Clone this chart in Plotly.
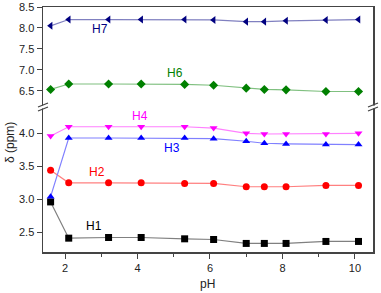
import plotly.graph_objects as go

pH = [1.6, 2.1, 3.2, 4.1, 5.3, 6.1, 7.0, 7.5, 8.1, 9.2, 10.1]
H1 = [2.96, 2.41, 2.42, 2.42, 2.40, 2.39, 2.33, 2.33, 2.33, 2.36, 2.36]
H2 = [3.44, 3.25, 3.25, 3.25, 3.24, 3.24, 3.19, 3.19, 3.19, 3.21, 3.21]
H3 = [3.04, 3.93, 3.93, 3.93, 3.93, 3.92, 3.88, 3.85, 3.84, 3.83, 3.83]
H4 = [3.96, 4.10, 4.10, 4.10, 4.10, 4.08, 4.00, 3.99, 3.99, 3.99, 4.00]
H6 = [6.53, 6.66, 6.66, 6.66, 6.65, 6.63, 6.56, 6.53, 6.52, 6.48, 6.48]
H7 = [8.05, 8.20, 8.20, 8.20, 8.20, 8.19, 8.15, 8.15, 8.17, 8.19, 8.20]

series = [
    ("H1", H1, "y", "square", "#000000", "#808080"),
    ("H2", H2, "y", "circle", "#ff0000", "#ff8080"),
    ("H3", H3, "y", "triangle-up", "#0000ff", "#8080ff"),
    ("H4", H4, "y", "triangle-down", "#ff00ff", "#ff80ff"),
    ("H6", H6, "y2", "diamond", "#008000", "#80c080"),
    ("H7", H7, "y2", "triangle-left", "#000080", "#8080c0"),
]

fig = go.Figure()
for name, vals, ya, sym, mc, lc in series:
    fig.add_trace(go.Scatter(
        x=pH, y=vals, yaxis=ya, xaxis="x" if ya == "y" else "x2",
        mode="lines+markers", name=name,
        line=dict(color=lc, width=1.2),
        marker=dict(symbol=sym, color=mc, size=7),
        showlegend=False, cliponaxis=False, hoverinfo="skip"))

# plot area in page pixels
L, R, T, B = 43, 373, 7, 252
BRK = 107
W, Hh = R - L, B - T
split = (B - BRK) / Hh

def px(x):
    return (x - L) / W

def py(y):
    return (B - y) / Hh

axcol = "#444444"
ff = "Liberation Sans, Arial, sans-serif"
font = dict(family=ff, size=11, color="#222")

fig.update_layout(
    width=381, height=293,
    margin=dict(l=L, r=381 - R, t=T, b=293 - B, pad=0),
    paper_bgcolor="white", plot_bgcolor="white",
    font=font, hovermode=False,
    xaxis=dict(range=[1.39, 10.5], domain=[0, 1], anchor="y", automargin=False,
               tickmode="array", tickvals=[2, 4, 6, 8, 10],
               ticks="outside", ticklen=5, tickcolor=axcol,
               minor=dict(tickvals=[3, 5, 7, 9], ticks="outside", ticklen=3, tickcolor=axcol),
               showline=True, linecolor=axcol, linewidth=1.5,
               showgrid=False, zeroline=False),
    xaxis2=dict(range=[1.39, 10.5], domain=[0, 1], anchor="y2", side="top", automargin=False,
                matches="x", showticklabels=False, ticks="",
                showline=True, linecolor=axcol, linewidth=1.5,
                showgrid=False, zeroline=False),
    yaxis=dict(range=[2.2, 4.4], domain=[0, split], anchor="x", automargin=False,
               tickvals=[2.5, 3.0, 3.5, 4.0], tickformat=".1f",
               ticks="outside", ticklen=5, tickcolor=axcol,
               showline=True, mirror=True, linecolor=axcol, linewidth=1.5,
               showgrid=False, zeroline=False),
    yaxis2=dict(range=[6.11, 8.5], domain=[split, 1], anchor="x2", automargin=False,
                tickvals=[6.5, 7.0, 7.5, 8.0, 8.5], tickformat=".1f",
                ticks="outside", ticklen=5, tickcolor=axcol, ticklabeloverflow="allow",
                showline=True, mirror=True, linecolor=axcol, linewidth=1.5,
                showgrid=False, zeroline=False),
)

# break marks
shapes = []
for cx in (L, R):
    shapes.append(dict(type="rect", xref="paper", yref="paper",
                       x0=px(cx - 2), x1=px(cx + 2), y0=py(BRK + 1.5), y1=py(BRK - 1.5),
                       fillcolor="white", line=dict(width=0), layer="above"))
    for dy in (-2, 2):
        shapes.append(dict(type="line", xref="paper", yref="paper",
                           x0=px(cx - 5), y0=py(BRK + 2 + dy), x1=px(cx + 5), y1=py(BRK - 2 + dy),
                           line=dict(color=axcol, width=1.2), layer="above"))
fig.update_layout(shapes=shapes)

# series labels
labels = [
    ("H7", 100, 29, "#000080"),
    ("H6", 175, 73, "#008000"),
    ("H4", 140, 116, "#ff00ff"),
    ("H3", 172, 148, "#0000ff"),
    ("H2", 97, 172, "#ff0000"),
    ("H1", 94, 226, "#000000"),
]
for t, x, y, c in labels:
    fig.add_annotation(text=t, x=px(x), y=py(y), xref="paper", yref="paper",
                       xanchor="center", yanchor="middle",
                       showarrow=False, font=dict(size=12, color=c, family=ff))

fig.add_annotation(text="δ (ppm)", x=px(10), y=py(143), xref="paper", yref="paper",
                   xanchor="center", yanchor="middle",
                   showarrow=False, textangle=-90, borderpad=0,
                   font=dict(size=12, color="#222", family=ff))
fig.add_annotation(text="pH", x=px(207), y=py(284), xref="paper", yref="paper",
                   xanchor="center", yanchor="middle",
                   showarrow=False, borderpad=0,
                   font=dict(size=12, color="#222", family=ff))

fig.write_html("out.html", config={"displayModeBar": False, "staticPlot": True},
               post_script="document.body.style.margin='0';document.body.style.overflow='hidden';")
